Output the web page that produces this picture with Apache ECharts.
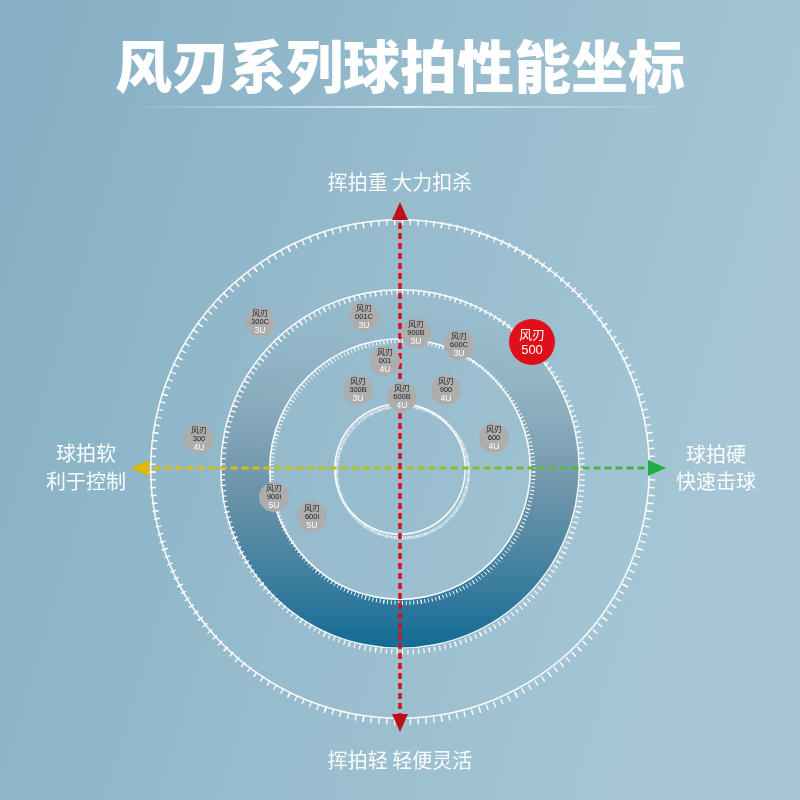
<!DOCTYPE html>
<html><head><meta charset="utf-8">
<script src="https://cdn.jsdelivr.net/npm/echarts@6/dist/echarts.min.js"></script>
<style>html,body{margin:0;padding:0;}#c{width:800px;height:800px;}</style>
</head><body><div id="c"></div>
<script>
// ---- data ----
const titleText = '风刃系列球拍性能坐标';
const axisTop = '挥拍重 大力扣杀';
const axisBottom = '挥拍轻 轻便灵活';
const axisLeft = ['球拍软', '利于控制'];
const axisRight = ['球拍硬', '快速击球'];
const brand = '风刃';
const models = ['300C', '001C', '900B', '600C', '001', '300B', '600B', '900', '600', '300', '900i', '600i'];
const weights = ['3U', '3U', '3U', '3U', '4U', '3U', '4U', '4U', '4U', '4U', '5U', '5U'];
const stiffness = [-5.6, -1.44, 0.64, 2.36, -0.6, -1.68, 0.08, 1.84, 3.76, -8.04, -5.04, -3.52];
const swingWeight = [5.84, 6.04, 5.4, 4.92, 4.28, 3.12, 2.84, 3.12, 1.2, 1.16, -1.16, -1.96];
const featured = { model: '500', x: 5.28, y: 5.04 };
const hAxisLine = [[-10.3, 0], [10.2, 0]];
const vAxisLine = [[0, 10.2], [0, -10.1]];
const arrowPts = [[0, 10.28, 0, 'top'], [0, -10.2, 180, 'bottom'], [-10.4, 0, 90, 'left'], [10.28, 0, -90, 'right']];
const rings = [250, 180, 131, 66];

// ---- chart ----
const chart = echarts.init(document.getElementById('c'));
const CX = 400, CY = 469;

function lineGauge(r, w) {
  return {
    type: 'gauge', center: [CX, CY], radius: r, startAngle: 90, endAngle: -270, min: 0, max: 1,
    silent: true, z: 2,
    axisLine: { show: true, lineStyle: { width: w, color: [[1, 'rgba(255,255,255,0.95)']] } },
    axisTick: { show: false }, splitLine: { show: false }, axisLabel: { show: false },
    pointer: { show: false }, anchor: { show: false }, title: { show: false }, detail: { show: false },
    progress: { show: false }, data: []
  };
}
function tickGauge(r, len, split, sub, w) {
  return {
    type: 'gauge', center: [CX + 2.5, CY + 3], radius: r + len / 2, startAngle: 90, endAngle: -270, min: 0, max: 1,
    splitNumber: split, silent: true, z: 2,
    axisLine: { show: false, lineStyle: { width: 0 } },
    axisTick: { show: true, splitNumber: sub, length: len, distance: 0, lineStyle: { color: 'rgba(255,255,255,0.95)', width: w } },
    splitLine: { show: false }, axisLabel: { show: false },
    pointer: { show: false }, anchor: { show: false }, title: { show: false }, detail: { show: false },
    progress: { show: false }, data: []
  };
}

const bubbleData = models.map((m, i) => [stiffness[i], swingWeight[i], m, weights[i]]);

const series = [
  {
    type: 'pie', center: [CX, CY], radius: [rings[2], rings[1]], silent: true, z: 1,
    label: { show: false }, labelLine: { show: false },
    data: [{ value: 1, itemStyle: { color: { type: 'linear', x: 0, y: 0, x2: 0, y2: 1, colorStops: [
      { offset: 0, color: 'rgba(150,185,200,0.05)' },
      { offset: 0.3, color: 'rgba(130,160,176,0.5)' },
      { offset: 0.55, color: 'rgba(100,140,162,0.82)' },
      { offset: 1, color: '#126a95' }
    ] } } }]
  },
  lineGauge(rings[0], 1.5), tickGauge(rings[0], 6, 40, 5, 1.4),
  lineGauge(rings[1], 1.5), tickGauge(rings[1], 5, 42, 5, 1.2),
  lineGauge(rings[2], 1.5), tickGauge(rings[2], 4, 44, 5, 1.0),
  lineGauge(rings[3], 1.5), tickGauge(rings[3], 3, 52, 5, 0.8),
  {
    type: 'line', data: hAxisLine, symbol: 'none', z: 5, silent: true, clip: false,
    lineStyle: { width: 3, type: [7, 4], color: { type: 'linear', x: 0, y: 0, x2: 1, y2: 0, colorStops: [
      { offset: 0, color: '#e8bd00' }, { offset: 0.5, color: '#a9c21e' }, { offset: 1, color: '#29b548' }
    ] } }
  },
  {
    type: 'line', data: vAxisLine, symbol: 'none', z: 5, silent: true, clip: false,
    lineStyle: { width: 3.5, type: [6, 4], color: '#d8101c' }
  },
  {
    type: 'scatter', z: 6, silent: true, clip: false,
    data: arrowPts.map(p => ({
      value: [p[0], p[1]], symbolRotate: p[2], symbolSize: [16, 18],
      itemStyle: { opacity: 1, color: p[3] === 'left' ? '#e3b800' : p[3] === 'right' ? '#22ad44' : '#bf0f1b' }
    })),
    symbol: 'triangle'
  },
  {
    type: 'scatter', z: 7, silent: true, data: bubbleData, symbolSize: 30,
    itemStyle: { color: '#adadad', opacity: 1 },
    label: {
      show: true, position: 'inside',
      formatter: p => '{a|' + brand + '}\n{b|' + p.data[2] + '}\n{c|' + p.data[3] + '}',
      rich: {
        a: { fontSize: 8, lineHeight: 8.5, color: '#1e1e1e', fontFamily: 'Noto Sans CJK SC' },
        b: { fontSize: 7.5, lineHeight: 8.5, color: '#1e1e1e', fontFamily: 'Liberation Sans Narrow, Liberation Sans' },
        c: { fontSize: 8.5, lineHeight: 9, color: '#fff', fontFamily: 'Liberation Sans' }
      }
    }
  },
  {
    type: 'scatter', z: 7, silent: true, data: [[featured.x, featured.y, featured.model]], symbolSize: 46,
    itemStyle: { color: '#e0101b', opacity: 1 },
    label: {
      show: true, position: 'inside',
      formatter: p => '{a|' + brand + '}\n{b|' + p.data[2] + '}',
      rich: {
        a: { fontSize: 13, lineHeight: 16, color: '#fff', fontFamily: 'Noto Sans CJK SC' },
        b: { fontSize: 13, lineHeight: 16, color: '#fff', fontFamily: 'Liberation Sans' }
      }
    }
  }
];

const lblStyle = { fill: 'rgba(255,255,255,0.96)', font: '20px "Noto Sans CJK SC"', textAlign: 'center', textVerticalAlign: 'middle' };

chart.setOption({
  animation: false,
  backgroundColor: { type: 'linear', x: 0, y: 0, x2: 1, y2: 0.3, colorStops: [
    { offset: 0, color: '#84afc4' }, { offset: 0.5, color: '#95bbcc' }, { offset: 1, color: '#a6c6d5' }
  ] },
  grid: { left: 125, top: 193, width: 550, height: 550 },
  xAxis: { type: 'value', min: -11, max: 11, show: false },
  yAxis: { type: 'value', min: -11, max: 11, show: false },
  graphic: [
    { type: 'rect', shape: { x: 120, y: 106, width: 560, height: 2 }, style: { fill: { type: 'linear', x: 0, y: 0, x2: 1, y2: 0, colorStops: [
      { offset: 0, color: 'rgba(255,255,255,0)' }, { offset: 0.5, color: 'rgba(255,255,255,0.7)' }, { offset: 1, color: 'rgba(255,255,255,0)' }
    ] } }, silent: true },
    { type: 'text', x: 400, y: 66, style: { text: titleText, fill: '#fff', font: '900 57px "Noto Sans CJK SC"', textAlign: 'center', textVerticalAlign: 'middle' } },
    { type: 'text', x: 400, y: 182, style: Object.assign({ text: axisTop }, lblStyle) },
    { type: 'text', x: 400, y: 760, style: Object.assign({ text: axisBottom }, lblStyle) },
    { type: 'text', x: 86, y: 453, style: Object.assign({ text: axisLeft[0] }, lblStyle) },
    { type: 'text', x: 86, y: 481, style: Object.assign({ text: axisLeft[1] }, lblStyle) },
    { type: 'text', x: 716, y: 454, style: Object.assign({ text: axisRight[0] }, lblStyle) },
    { type: 'text', x: 716, y: 481, style: Object.assign({ text: axisRight[1] }, lblStyle) }
  ],
  series: series
});
</script>
</body></html>
